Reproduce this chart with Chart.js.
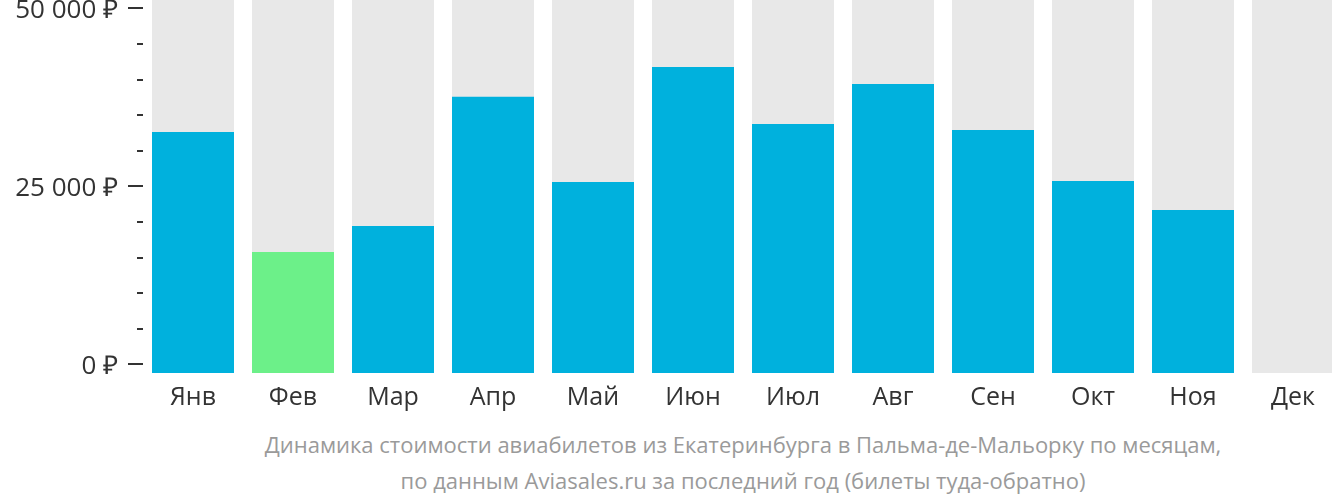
<!DOCTYPE html>
<html>
<head>
<meta charset="utf-8">
<script src="https://cdn.jsdelivr.net/npm/chart.js@4/dist/chart.umd.min.js"></script>
<style>
  html, body { margin: 0; padding: 0; background: #fff; overflow: hidden; }
  #wrap { position: relative; width: 1343px; height: 502px; }
  #box { position: absolute; left: 0; top: 0; width: 1343px; height: 420px; }
  #caption {
    position: absolute; left: 143px; top: 426px; width: 1200px;
    text-align: center; font-family: "Open Sans", sans-serif;
    font-size: 22px; line-height: 36px; color: #9a9a9a;
  }
</style>
</head>
<body>
<div id="wrap">
  <div id="box"><canvas id="chart"></canvas></div>
  <div id="caption">Динамика стоимости авиабилетов из Екатеринбурга в Пальма-де-Мальорку по месяцам,<br>по данным Aviasales.ru за последний год (билеты туда-обратно)</div>
</div>
<script>
// months and prices (rub), Dec has no data
const months = ['Янв', 'Фев', 'Мар', 'Апр', 'Май', 'Июн', 'Июл', 'Авг', 'Сен', 'Окт', 'Ноя', 'Дек'];
const prices = [32630, 15770, 19420, 37580, 25600, 41750, 33750, 39370, 32900, 25740, 21670, null];
const cheapest = 'Фев';
const labelTicks = [0, 25000, 50000];
const minorStep = 5000;

const yMin = -1220;
const yMax = 51170;

const blue = '#00b1dd';
const green = '#6cf089';
const grey = '#e8e8e8';

const barColors = months.map(m => m === cheapest ? green : blue);
const background = months.map(() => yMax);

function rub(v) {
  return String(v).replace(/\B(?=(\d{3})+(?!\d))/g, ' ') + ' ₽';
}

// little tick marks on the left of the plot
const tickMarks = {
  id: 'tickMarks',
  afterDraw(chart) {
    const y = chart.scales.y;
    const ctx = chart.ctx;
    const right = chart.chartArea.left;
    ctx.save();
    ctx.strokeStyle = '#333';
    ctx.lineWidth = 2;
    for (let v = 0; v <= 50000; v += minorStep) {
      const py = Math.round(y.getPixelForValue(v));
      const len = labelTicks.includes(v) ? 15 : 6;
      ctx.beginPath();
      ctx.moveTo(right - len, py);
      ctx.lineTo(right, py);
      ctx.stroke();
    }
    ctx.restore();
  }
};

new Chart(document.getElementById('chart'), {
  type: 'bar',
  data: {
    labels: months,
    datasets: [
      {
        data: prices,
        backgroundColor: barColors,
        base: yMin,
        grouped: false,
        order: 0
      },
      {
        data: background,
        backgroundColor: grey,
        base: yMin,
        grouped: false,
        order: 1
      }
    ]
  },
  options: {
    responsive: true,
    maintainAspectRatio: false,
    animation: false,
    layout: { padding: 0 },
    datasets: {
      bar: { barPercentage: 0.82, categoryPercentage: 1 }
    },
    plugins: {
      legend: { display: false },
      tooltip: { enabled: false }
    },
    scales: {
      x: {
        offset: true,
        grid: { display: false, drawTicks: false },
        border: { display: false },
        ticks: {
          color: '#333',
          padding: 10,
          font: { family: 'Open Sans', size: 25 }
        },
        afterFit(s) { s.height = 47; s.paddingLeft = 0; s.paddingRight = 0; }
      },
      y: {
        min: yMin,
        max: yMax,
        grid: { display: false, drawTicks: false },
        border: { display: false },
        afterBuildTicks(s) { s.ticks = labelTicks.map(v => ({ value: v })); },
        ticks: {
          color: '#333',
          padding: 25,
          labelOffset: 2,
          font: { family: 'Open Sans', size: 26 },
          callback: v => rub(v)
        },
        afterFit(s) { s.width = 143; s.paddingTop = 0; s.paddingBottom = 0; }
      }
    }
  },
  plugins: [tickMarks]
});
</script>
</body>
</html>
